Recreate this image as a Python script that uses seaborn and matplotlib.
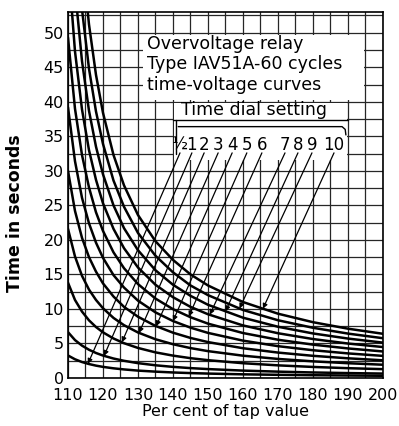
import matplotlib
matplotlib.use('Agg')
import matplotlib.pyplot as plt
import seaborn as sns
import numpy as np
from matplotlib.patches import Rectangle

# per cent of tap value where the curves were read
pct = [110, 112, 114, 116, 118, 120, 123, 126, 130, 135, 140, 145, 150, 160, 170, 180, 190, 200]

# operating time (s) read for each time dial setting
t_half = [3.26, 2.71, 2.31, 2.02, 1.79, 1.61, 1.40, 1.24, 1.07, 0.92, 0.80, 0.71, 0.64, 0.53, 0.46, 0.40, 0.36, 0.32]
t_1 = [6.64, 5.49, 4.69, 4.09, 3.62, 3.25, 2.82, 2.49, 2.15, 1.84, 1.61, 1.43, 1.29, 1.07, 0.92, 0.80, 0.71, 0.64]
t_2 = [13.8, 11.3, 9.62, 8.35, 7.38, 6.61, 5.72, 5.04, 4.35, 3.71, 3.24, 2.87, 2.58, 2.14, 1.83, 1.60, 1.42, 1.28]
t_3 = [21.6, 17.6, 14.8, 12.8, 11.3, 10.1, 8.70, 7.65, 6.59, 5.61, 4.89, 4.33, 3.89, 3.23, 2.76, 2.41, 2.14, 1.92]
t_4 = [30.0, 24.2, 20.3, 17.5, 15.4, 13.7, 11.8, 10.3, 8.87, 7.54, 6.56, 5.80, 5.20, 4.31, 3.68, 3.21, 2.85, 2.56]
t_5 = [39.2, 31.4, 26.1, 22.4, 19.6, 17.4, 14.9, 13.1, 11.2, 9.50, 8.25, 7.29, 6.53, 5.41, 4.61, 4.02, 3.56, 3.20]
t_6 = [49.3, 39.0, 32.3, 27.6, 24.0, 21.3, 18.2, 15.9, 13.6, 11.5, 9.97, 8.80, 7.87, 6.51, 5.54, 4.83, 4.28, 3.84]
t_7 = [60.5, 47.3, 38.9, 33.0, 28.7, 25.3, 21.6, 18.8, 16.0, 13.5, 11.7, 10.3, 9.23, 7.61, 6.48, 5.64, 4.99, 4.48]
t_8 = [72.9, 56.3, 45.9, 38.7, 33.5, 29.5, 25.0, 21.7, 18.5, 15.6, 13.5, 11.9, 10.6, 8.73, 7.42, 6.45, 5.71, 5.12]
t_9 = [86.8, 66.1, 53.4, 44.8, 38.6, 33.9, 28.6, 24.8, 21.0, 17.7, 15.3, 13.4, 12.0, 9.85, 8.36, 7.27, 6.43, 5.76]
t_10 = [102.4, 76.8, 61.4, 51.2, 43.9, 38.4, 32.3, 27.9, 23.6, 19.8, 17.1, 15.0, 13.4, 11.0, 9.31, 8.08, 7.14, 6.40]

curves = [t_half, t_1, t_2, t_3, t_4, t_5, t_6, t_7, t_8, t_9, t_10]
dial_labels = ['½', '1', '2', '3', '4', '5', '6', '7', '8', '9', '10']
label_pct = [142.0, 145.4, 148.9, 152.9, 156.9, 161.1, 165.4, 172.0, 175.7, 179.7, 186.0]
arrow_pct = [115.7, 120.3, 125.4, 130.3, 135.2, 140.0, 144.5, 150.5, 155.0, 159.0, 165.7]

title_lines = ['Overvoltage relay', 'Type IAV51A-60 cycles', 'time-voltage curves']


def draw_chart():
    sns.set_theme(style='white')
    plt.rcParams['font.family'] = ['DejaVu Sans']
    plt.rcParams['text.color'] = 'black'

    fig = plt.figure(figsize=(3.99, 4.26), dpi=100)
    ax = fig.add_axes([0.1704, 0.1127, 0.7895, 0.8591])

    for vals in curves:
        sns.lineplot(x=pct, y=vals, color='black', lw=1.8, ax=ax)

    ax.set_xlim(110, 200)
    ax.set_ylim(0, 53)
    ax.set_xticks(range(110, 201, 10))
    ax.set_xticks(range(115, 200, 10), minor=True)
    ax.set_yticks(range(0, 51, 5))
    ax.set_yticks(np.arange(2.5, 53, 5), minor=True)
    ax.set_axisbelow(True)
    ax.grid(which='both', color='0.15', lw=0.9)
    ax.tick_params(which='both', length=0, labelsize=11.5, colors='black')
    ax.tick_params(axis='x', pad=7)
    ax.tick_params(axis='y', pad=3)
    for s in ax.spines.values():
        s.set_color('black')
        s.set_linewidth(1.2)

    # white patches hiding the grid behind the notes
    ax.add_patch(Rectangle((131.5, 40.3), 63.0, 9.3, facecolor='white', edgecolor='none', zorder=1))
    ax.add_patch(Rectangle((140.3, 31.6), 49.4, 8.2, facecolor='white', edgecolor='none', zorder=1))
    ax.plot([140, 190], [37.3, 37.3], color='black', lw=1.0, zorder=3)
    ax.plot([141.5, 188.3, 189.2, 189.4], [36.4, 36.4, 36.0, 35.2], color='black', lw=1.0, zorder=3)
    ax.plot([141.0, 141.0], [37.3, 32.5], color='black', lw=1.0, zorder=3)

    for i, line in enumerate(title_lines):
        ax.text(132.6, 48.3 - i * 2.9, line, fontsize=12.5, va='center', ha='left', zorder=4)
    ax.text(142.3, 38.8, 'Time dial setting', fontsize=12.5, va='center', ha='left', zorder=4)

    for lab, lp, ap, vals in zip(dial_labels, label_pct, arrow_pct, curves):
        ax.text(lp, 33.8, lab, fontsize=12, ha='center', va='center', zorder=4)
        ay = np.interp(ap, pct, vals)
        ax.annotate('', xy=(ap, ay), xytext=(lp, 32.6),
                    arrowprops=dict(arrowstyle='-|>', color='black', lw=0.9,
                                    mutation_scale=7, shrinkA=0, shrinkB=0), zorder=4)

    ax.set_xlabel('Per cent of tap value', fontsize=11.5, labelpad=1, color='black')
    ax.set_ylabel('Time in seconds', fontsize=12.5, fontweight='bold', color='black')
    ax.yaxis.set_label_coords(-0.14, 0.45)

    fig.savefig('out.png', dpi=100, facecolor='white')


if __name__ == '__main__':
    draw_chart()
